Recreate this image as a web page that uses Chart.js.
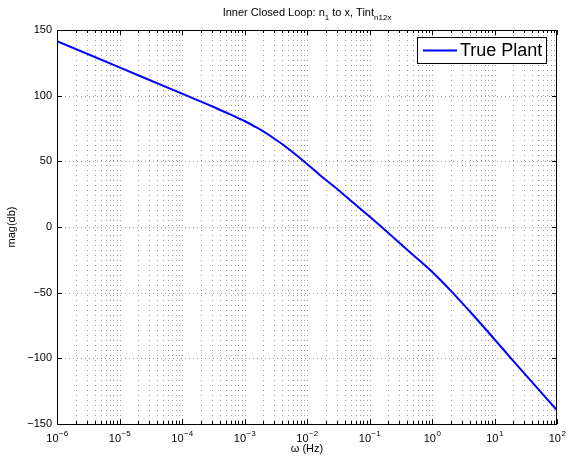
<!DOCTYPE html>
<html>
<head>
<meta charset="utf-8">
<script src="https://cdn.jsdelivr.net/npm/chart.js@4.4.0/dist/chart.umd.min.js"></script>
<style>
  html, body { margin: 0; padding: 0; background: #fff; }
</style>
</head>
<body>
<canvas id="myChart" width="570" height="460"></canvas>
<script>
// valores: frecuencia (Hz) y magnitud (dB)
const frecuencias = [1e-6, 1e-5, 1e-4, 3.2e-4, 5.9e-4, 1e-3, 1.5e-3, 2e-3, 2.9e-3, 4.2e-3, 6.8e-3,
  1e-2, 1.6e-2, 3.2e-2, 5.5e-2, 0.1, 0.15, 0.24, 0.44, 0.82, 1, 1.34, 2.19, 4.58, 10, 17.8, 41.9, 100]
const magnitudes = [141.5, 121.5, 101.5, 91.4, 85.7, 80.7, 76.2, 72.8, 67.8, 62.4, 54.6,
  48.0, 39.6, 28.0, 18.4, 8.0, 0.7, -7.9, -19.0, -30.2, -34, -40, -50.5, -67.2, -85.5, -99.2, -119.3, -139.6]
const yTicks = [-150, -100, -50, 0, 50, 100, 150]
const xDecadas = [-6, -5, -4, -3, -2, -1, 0, 1, 2]
const nombreSerie = 'True Plant'

const fuente = '"Liberation Sans", Arial, Helvetica, sans-serif'

function textoPartes(ctx, partes, cx, base) {
  // partes: [texto, esSub]
  let total = 0
  partes.forEach(p => {
    ctx.font = (p[1] ? 8 : 11) + 'px ' + fuente
    total += ctx.measureText(p[0]).width
  })
  let x = cx - total / 2
  partes.forEach(p => {
    ctx.font = (p[1] ? 8 : 11) + 'px ' + fuente
    ctx.fillText(p[0], x, base + (p[1] ? 4 : 0))
    x += ctx.measureText(p[0]).width
  })
}

const decoracion = {
  id: 'decoracion',
  beforeDatasetsDraw(chart) {
    const { ctx, chartArea: a, scales } = chart
    ctx.save()
    ctx.strokeStyle = 'rgba(0,0,0,0.38)'
    ctx.lineWidth = 1
    // rejilla vertical (log)
    ctx.setLineDash([1, 4])
    xDecadas.forEach(e => {
      for (let k = 1; k <= 9; k++) {
        const px = Math.round(scales.x.getPixelForValue(k * Math.pow(10, e))) + 0.5
        if (px <= a.left + 1 || px >= a.right - 1) continue
        ctx.beginPath()
        ctx.moveTo(px, a.top)
        ctx.lineTo(px, a.bottom)
        ctx.stroke()
      }
    })
    // rejilla horizontal
    ctx.setLineDash([1, 3])
    yTicks.forEach(v => {
      const py = Math.round(scales.y.getPixelForValue(v)) + 0.5
      if (py <= a.top + 1 || py >= a.bottom - 1) return
      ctx.beginPath()
      ctx.moveTo(a.left, py)
      ctx.lineTo(a.right, py)
      ctx.stroke()
    })
    ctx.restore()
  },
  afterDatasetsDraw(chart) {
    const { ctx, chartArea: a, scales } = chart
    ctx.save()
    ctx.strokeStyle = '#000'
    ctx.fillStyle = '#000'
    ctx.lineWidth = 1
    ctx.setLineDash([])

    // marcas en x
    xDecadas.forEach(e => {
      for (let k = 1; k <= 9; k++) {
        const v = k * Math.pow(10, e)
        if (v > 100) break
        const px = Math.round(scales.x.getPixelForValue(v)) + 0.5
        const largo = k === 1 ? 5 : 3
        ctx.beginPath()
        ctx.moveTo(px, a.bottom)
        ctx.lineTo(px, a.bottom - largo)
        ctx.moveTo(px, a.top)
        ctx.lineTo(px, a.top + largo)
        ctx.stroke()
      }
    })
    // marcas en y
    yTicks.forEach(v => {
      const py = Math.round(scales.y.getPixelForValue(v)) + 0.5
      ctx.beginPath()
      ctx.moveTo(a.left, py)
      ctx.lineTo(a.left + 5, py)
      ctx.moveTo(a.right, py)
      ctx.lineTo(a.right - 5, py)
      ctx.stroke()
    })
    // caja
    ctx.strokeRect(Math.round(a.left) + 0.5, Math.round(a.top) + 0.5,
      Math.round(a.right - a.left) - 1, Math.round(a.bottom - a.top))

    // etiquetas x con exponente
    ctx.textBaseline = 'alphabetic'
    ctx.textAlign = 'left'
    xDecadas.forEach(e => {
      const px = scales.x.getPixelForValue(Math.pow(10, e))
      const exp = e < 0 ? '\u2212' + Math.abs(e) : '' + e
      ctx.font = '11px ' + fuente
      const w1 = ctx.measureText('10').width
      ctx.font = '8px ' + fuente
      const w2 = ctx.measureText(exp).width
      const x0 = px - (w1 + w2) / 2
      ctx.font = '11px ' + fuente
      ctx.fillText('10', x0, 442)
      ctx.font = '8px ' + fuente
      ctx.fillText(exp, x0 + w1 + 0.5, 436)
    })

    const cx = (a.left + a.right) / 2
    // titulo
    textoPartes(ctx, [['Inner Closed Loop: n', false], ['1', true], [' to x, Tint', false], ['n12x', true]], cx, 16)

    // etiqueta x
    ctx.textAlign = 'center'
    ctx.font = '11px ' + fuente
    ctx.fillText('\u03c9 (Hz)', cx, 452)

    // etiqueta y
    ctx.save()
    ctx.translate(15, (a.top + a.bottom) / 2)
    ctx.rotate(-Math.PI / 2)
    ctx.textAlign = 'center'
    ctx.fillText('mag(db)', 0, 0)
    ctx.restore()

    // leyenda
    ctx.fillStyle = '#fff'
    ctx.fillRect(417, 37, 129, 26)
    ctx.strokeStyle = '#000'
    ctx.strokeRect(417.5, 37.5, 129, 26)
    ctx.strokeStyle = chart.data.datasets[0].borderColor
    ctx.lineWidth = 2
    ctx.beginPath()
    ctx.moveTo(423, 50.5)
    ctx.lineTo(457, 50.5)
    ctx.stroke()
    ctx.fillStyle = '#000'
    ctx.textAlign = 'left'
    ctx.textBaseline = 'middle'
    ctx.font = '18px ' + fuente
    ctx.fillText(chart.data.datasets[0].label, 460, 51)
    ctx.restore()
  }
}

const datos = {
  datasets: [{
    label: nombreSerie,
    data: frecuencias.map((f, i) => ({ x: f, y: magnitudes[i] })),
    borderColor: '#0000ff',
    borderWidth: 2,
    pointRadius: 0,
    fill: false,
    cubicInterpolationMode: 'monotone'
  }]
}

const config = {
  type: 'line',
  data: datos,
  options: {
    responsive: false,
    animation: false,
    devicePixelRatio: 1,
    layout: { padding: { top: 30, right: 13, left: 0, bottom: 0 } },
    plugins: { legend: { display: false }, title: { display: false }, tooltip: { enabled: false } },
    scales: {
      x: {
        type: 'logarithmic', min: 1e-6, max: 100,
        grid: { display: false, drawTicks: false },
        border: { display: false },
        ticks: { display: false },
        afterFit: s => { s.height = 36 }
      },
      y: {
        type: 'linear', min: -150, max: 150,
        grid: { display: false, drawTicks: false },
        border: { display: false },
        afterBuildTicks: s => { s.ticks = yTicks.map(v => ({ value: v })) },
        ticks: {
          padding: 5,
          color: '#000',
          font: { family: fuente, size: 11 },
          callback: v => (v < 0 ? '\u2212' + Math.abs(v) : '' + v)
        },
        afterFit: s => { s.width = 57 }
      }
    }
  },
  plugins: [decoracion]
}

const myChart = new Chart(document.getElementById('myChart'), config)
</script>
</body>
</html>
